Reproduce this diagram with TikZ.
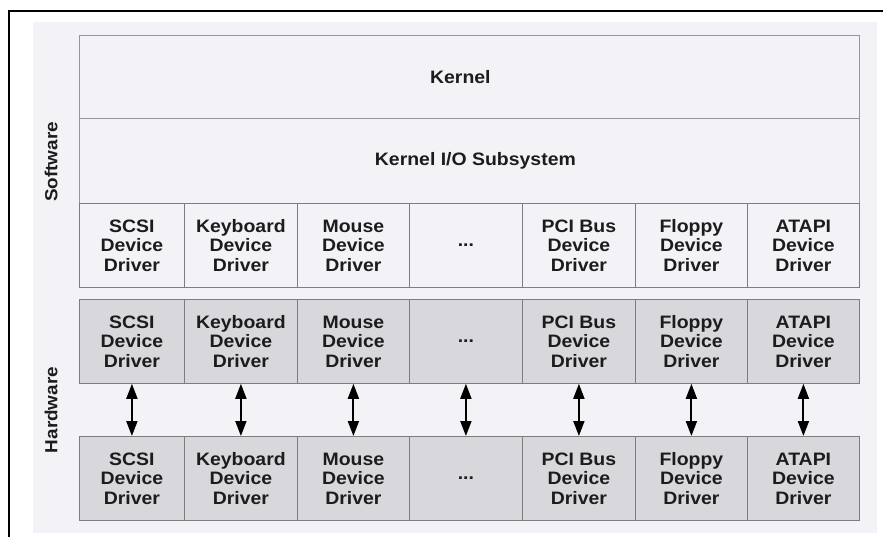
\documentclass[tikz,border=0pt]{standalone}
\usepackage{fontspec}
\setmainfont{Liberation Sans}[FakeStretch=1.08]
\usetikzlibrary{arrows.meta}

\definecolor{paper}{RGB}{243,243,247}
\definecolor{rulegray}{RGB}{125,125,128}
\definecolor{lightrule}{RGB}{150,150,154}
\definecolor{halftone}{RGB}{216,216,220}
\definecolor{ink}{RGB}{28,28,28}

\newcommand\cellfont{\fontsize{18}{19.5}\selectfont\bfseries}
\newcommand\sidefont{\fontsize{17.5}{19}\selectfont\bfseries}

\tikzset{
  layerbox/.style={draw=lightrule, line width=0.8pt, minimum width=780pt,
    minimum height=84pt, inner sep=0pt, anchor=north west, font=\cellfont, text=ink},
  swcell/.style={draw=rulegray, line width=0.8pt, minimum height=84pt,
    inner sep=0pt, anchor=north west, align=center, font=\cellfont, text=ink},
  hwcell/.style={swcell, fill=halftone},
  sidelabel/.style={rotate=90, font=\sidefont, text=ink, inner sep=0pt},
  busarrow/.style={line width=1.9pt, black,
    {Triangle[width=11pt,length=15pt]}-{Triangle[width=11pt,length=15pt]}},
  frameline/.style={line width=2.2pt, black}
}

\begin{document}
\begin{tikzpicture}[x=1pt,y=-1pt]
  \useasboundingbox (0,0) rectangle (883,537);

  % scanned page background
  \fill[paper] (33,22) rectangle (877,533);

  % outer frame (top and left edges)
  \coordinate (frameTR) at (883,11);
  \coordinate (frameTL) at (9,11);
  \coordinate (frameBL) at (9,537);
  \draw[frameline] (frameTR) -- (frameTL) -- (frameBL);

  % software layers
  \node[layerbox, minimum height=83pt] (kernel) at (79,35) {\hspace*{-18pt}Kernel};
  \node[layerbox, minimum height=85pt] (kio) at (79,118) {\hspace*{12pt}Kernel I/O Subsystem};

  % driver columns: left edge / width / name / text
  \foreach \x/\w/\n/\t in {
      79/105/scsi/{SCSI\\Device\\Driver},
      184/113/kbd/{Keyboard\\Device\\Driver},
      297/112/mouse/{Mouse\\Device\\Driver},
      409/113/more/{...},
      522/113/pci/{PCI Bus\\Device\\Driver},
      635/112/floppy/{Floppy\\Device\\Driver},
      747/112/atapi/{ATAPI\\Device\\Driver}} {
    \node[swcell, minimum width=\w pt] (sw-\n) at (\x,203) {\t};
    \node[hwcell, minimum width=\w pt] (hwa-\n) at (\x,299) {\t};
    \node[hwcell, minimum width=\w pt] (hwb-\n) at (\x,436) {\t};
    \draw[busarrow] (hwa-\n.south) -- (hwb-\n.north);
  }

  % side labels
  \node[sidelabel] (software) at (51,162) {Software};
  \node[sidelabel] (hardware) at (51,410) {Hardware};
\end{tikzpicture}
\end{document}
